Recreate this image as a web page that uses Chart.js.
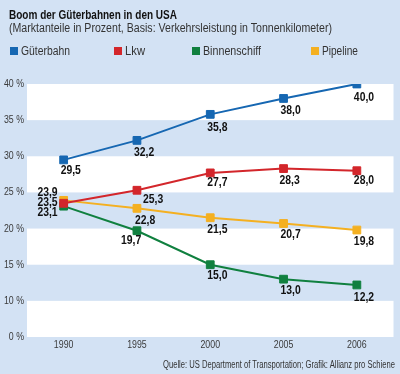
<!DOCTYPE html>
<html lang="de">
<head>
<meta charset="UTF-8">
<title>Boom der Güterbahnen in den USA</title>
<script src="https://cdn.jsdelivr.net/npm/chart.js"></script>
<style>
    body {
        margin: 0;
        padding: 0;
        background: #d3e2f4;
        font-family: 'Liberation Sans', Arial, sans-serif;
    }
    .wrap {
        position: relative;
        width: 400px;
        height: 374px;
        overflow: hidden;
    }
    .txt {
        position: absolute;
        white-space: nowrap;
        transform-origin: 0 50%;
        color: #333;
    }
    .title { left: 9px; top: 8px; font-size: 12.5px; line-height: 14px; font-weight: bold; color: #111; }
    .subtitle { left: 9px; top: 21px; font-size: 12.5px; line-height: 14px; }
    .legend-text { top: 44px; font-size: 12.5px; line-height: 14px; }
    .legend-box { position: absolute; top: 47px; width: 8px; height: 8px; }
    .footer { left: 163px; top: 358px; font-size: 10px; line-height: 14px; }
    canvas { position: absolute; left: 0; top: 0; }
</style>
</head>
<body>
<div class="wrap" id="wrap">
    <canvas id="chart" width="400" height="374"></canvas>
    <div class="txt title" data-w="168">Boom der Güterbahnen in den USA</div>
    <div class="txt subtitle" data-w="323">(Marktanteile in Prozent, Basis: Verkehrsleistung in Tonnenkilometer)</div>
    <div class="txt footer" data-w="232">Quelle: US Department of Transportation; Grafik: Allianz pro Schiene</div>
</div>

<script>
    // data
    const years = ['1990', '1995', '2000', '2005', '2006'];
    const seriesNames = ['Güterbahn', 'Lkw', 'Binnenschiff', 'Pipeline'];
    const gueterbahn = [29.5, 32.2, 35.8, 38.0, 40.0];
    const lkw = [23.5, 25.3, 27.7, 28.3, 28.0];
    const binnenschiff = [23.1, 19.7, 15.0, 13.0, 12.2];
    const pipeline = [23.9, 22.8, 21.5, 20.7, 19.8];
    // axis is broken: lowest tick (5) is shown as 0 %
    const yTickValues = [5, 10, 15, 20, 25, 30, 35, 40];
    const yTickLabels = ['0 %', '10 %', '15 %', '20 %', '25 %', '30 %', '35 %', '40 %'];

    const colors = ['#1667b2', '#d3262b', '#10803f', '#f4b021'];
    const legendBoxX = [10, 114, 192, 311];
    const legendTextW = [49, 20, 58, 36];

    // label placement per series/point: [dx, dy, align]
    const labelPos = [
        [[-3, 11, 'left'], [-3, 12, 'left'], [-3, 13, 'left'], [-3, 12, 'left'], [-3, 13, 'left']],
        [[-6, -1, 'right'], [6, 9, 'left'], [-3, 10, 'left'], [-4, 12, 'left'], [-3, 10, 'left']],
        [[-6, 6, 'right'], [-16, 10, 'left'], [-3, 11, 'left'], [-3, 11, 'left'], [-3, 12, 'left']],
        [[-6, -8, 'right'], [-2, 12, 'left'], [-3, 12, 'left'], [-3, 11, 'left'], [-3, 11, 'left']]
    ];

    const allSeries = [gueterbahn, lkw, binnenschiff, pipeline];
    const FONT = "'Liberation Sans', Arial, sans-serif";
    const SQUEEZE = 0.8;

    // legend in html
    const wrap = document.getElementById('wrap');
    seriesNames.forEach((name, i) => {
        const box = document.createElement('div');
        box.className = 'legend-box';
        box.style.left = legendBoxX[i] + 'px';
        box.style.background = colors[i];
        wrap.appendChild(box);
        const t = document.createElement('div');
        t.className = 'txt legend-text';
        t.style.left = (legendBoxX[i] + 11) + 'px';
        t.dataset.w = legendTextW[i];
        t.textContent = name;
        wrap.appendChild(t);
    });

    // squeeze html text horizontally (original uses a condensed face)
    document.querySelectorAll('.txt').forEach(el => {
        const w = el.getBoundingClientRect().width;
        el.style.transform = 'scaleX(' + (el.dataset.w / w) + ')';
    });

    function condensedText(ctx, text, x, y, align) {
        ctx.save();
        ctx.translate(x, y);
        ctx.scale(SQUEEZE, 1);
        ctx.textAlign = align;
        ctx.fillText(text, 0, 0);
        ctx.restore();
    }

    // alternating white bands behind the plot + axis labels
    const bandsPlugin = {
        id: 'bands',
        beforeDatasetsDraw(chart) {
            const { ctx, chartArea, scales } = chart;
            const y = scales.y;
            const x = scales.x;
            ctx.save();
            ctx.fillStyle = '#ffffff';
            for (let v = 40; v > 5; v -= 10) {
                const top = y.getPixelForValue(v);
                const bottom = y.getPixelForValue(v - 5);
                ctx.fillRect(chartArea.left, top, chartArea.right - chartArea.left, bottom - top);
            }
            ctx.fillStyle = '#3a3a3a';
            ctx.font = '11px ' + FONT;
            ctx.textBaseline = 'middle';
            yTickValues.forEach((v, i) => {
                condensedText(ctx, yTickLabels[i], chartArea.left - 3, y.getPixelForValue(v), 'right');
            });
            years.forEach((yr, i) => {
                condensedText(ctx, yr, x.getPixelForValue(i), chartArea.bottom + 8, 'center');
            });
            ctx.restore();
        }
    };

    // value labels with german decimal comma
    const valueLabels = {
        id: 'valueLabels',
        afterDatasetsDraw(chart) {
            const ctx = chart.ctx;
            ctx.save();
            ctx.font = 'bold 13px ' + FONT;
            ctx.fillStyle = '#111';
            ctx.textBaseline = 'middle';
            chart.data.datasets.forEach((ds, di) => {
                const meta = chart.getDatasetMeta(di);
                meta.data.forEach((pt, i) => {
                    const p = labelPos[di][i];
                    condensedText(ctx, ds.data[i].toFixed(1).replace('.', ','), pt.x + p[0], pt.y + p[1], p[2]);
                });
            });
            ctx.restore();
        }
    };

    const datasets = allSeries.map((data, i) => ({
        label: seriesNames[i],
        data: data,
        borderColor: colors[i],
        backgroundColor: colors[i],
        borderWidth: 2,
        tension: 0,
        pointStyle: 'rect',
        pointRadius: 5.5,
        pointBorderWidth: 1,
        pointBorderColor: colors[i],
        pointBackgroundColor: colors[i]
    }));

    new Chart(document.getElementById('chart'), {
        type: 'line',
        data: { labels: years, datasets: datasets },
        options: {
            responsive: false,
            animation: false,
            devicePixelRatio: 1,
            layout: { padding: { left: 0, right: 5, top: 84, bottom: 21 } },
            plugins: {
                legend: { display: false },
                title: { display: false },
                tooltip: { enabled: false }
            },
            scales: {
                x: {
                    offset: true,
                    grid: { display: false },
                    border: { display: false },
                    ticks: { display: false },
                    afterFit(scale) { scale.height = 16; }
                },
                y: {
                    min: 5,
                    max: 40,
                    grid: { display: false },
                    border: { display: false },
                    afterBuildTicks(scale) {
                        scale.ticks = yTickValues.map(v => ({ value: v }));
                    },
                    ticks: { display: false },
                    afterFit(scale) { scale.width = 27; }
                }
            }
        },
        plugins: [bandsPlugin, valueLabels]
    });
</script>
</body>
</html>
